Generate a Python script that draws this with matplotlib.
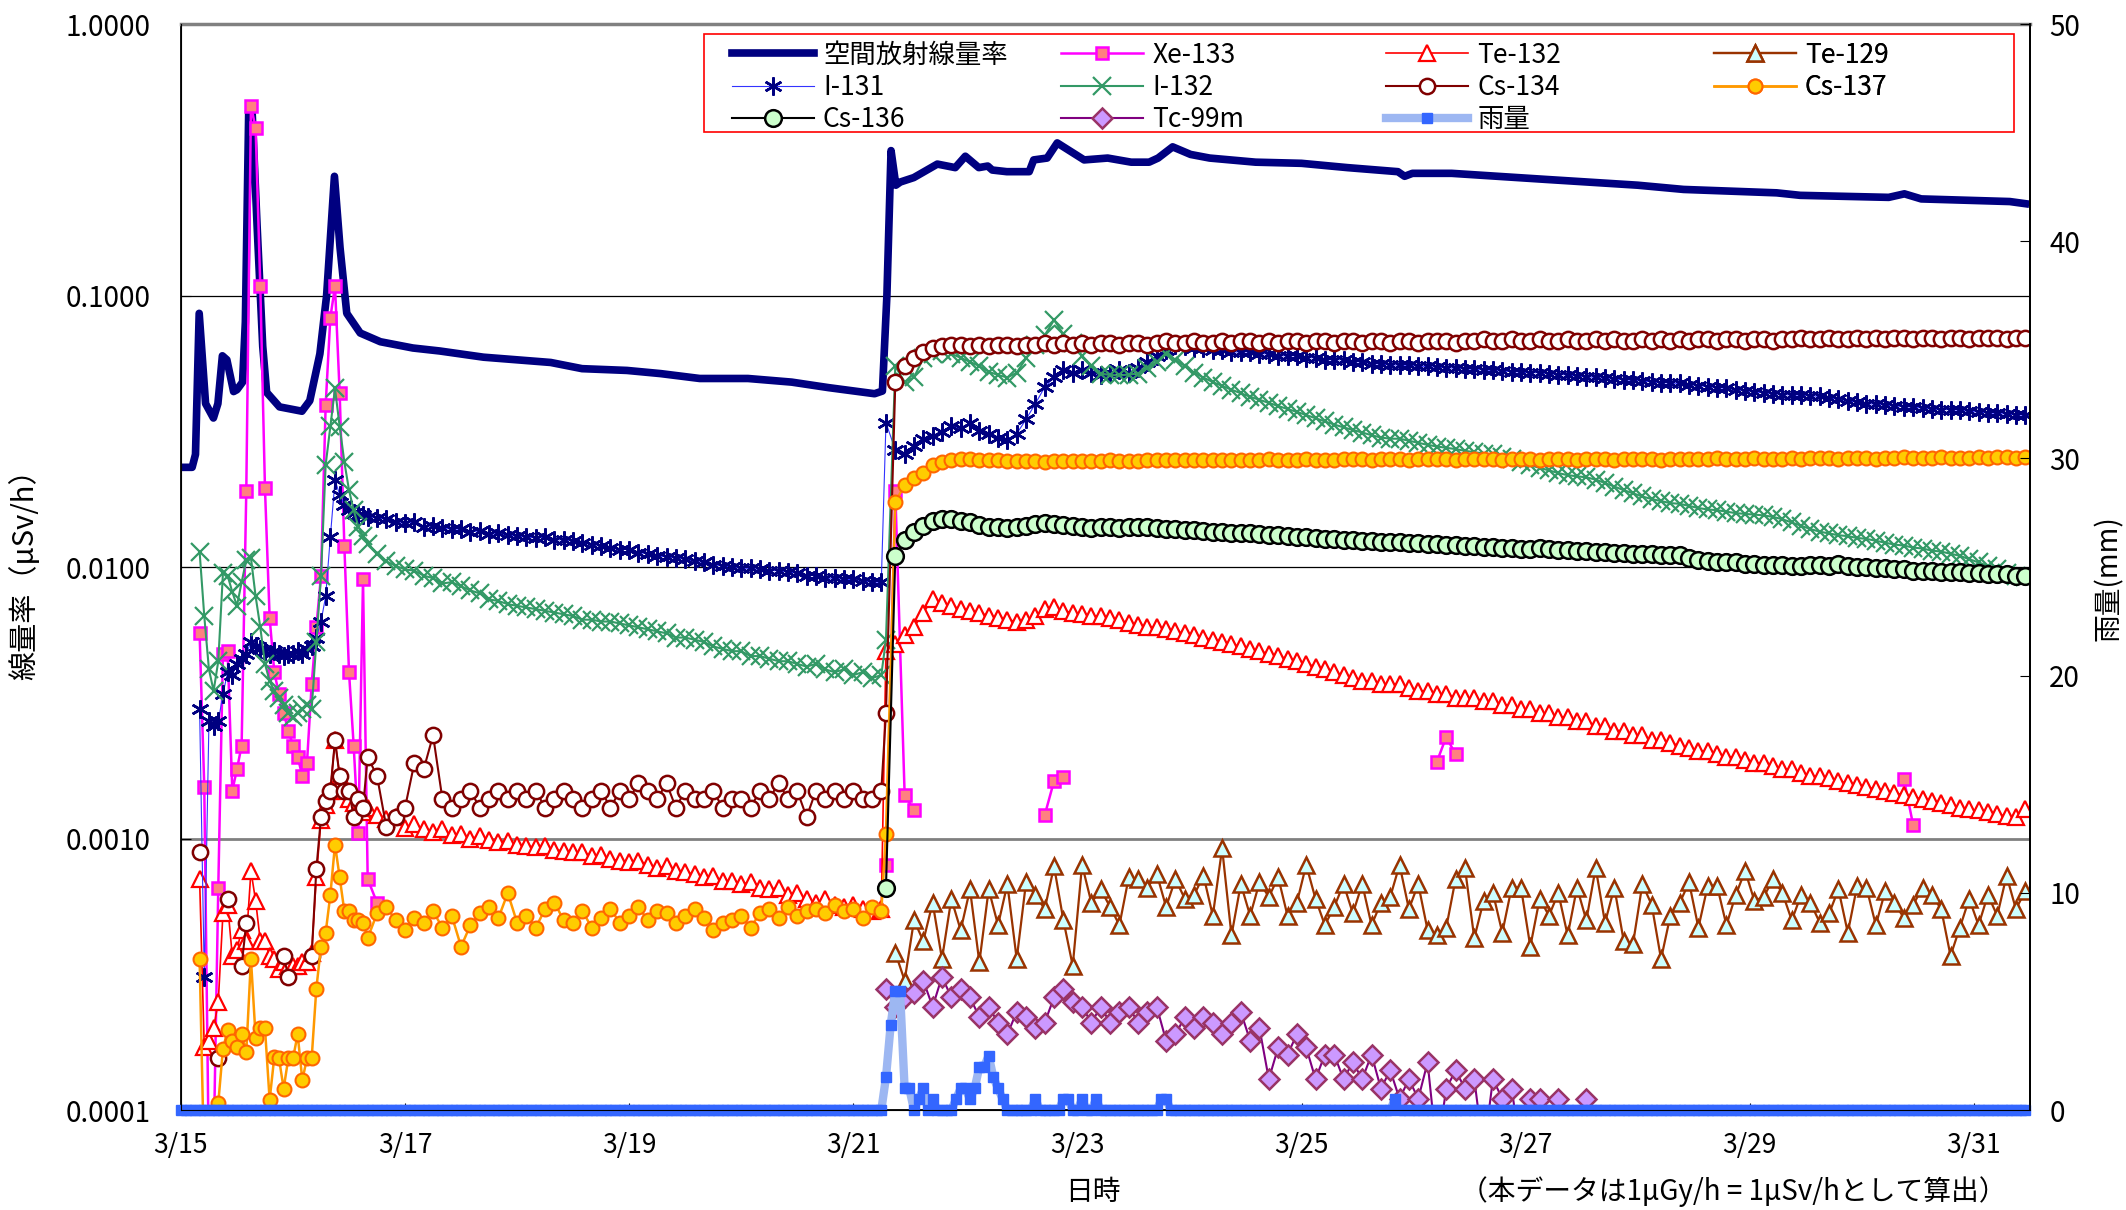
import matplotlib.pyplot as plt
from matplotlib.patches import Rectangle
import numpy as np

plt.rcParams['font.family'] = ['Noto Sans CJK JP', 'DejaVu Sans']
plt.rcParams['font.size'] = 19

nan = np.nan

# 時刻: 3/15 0:00 からの経過時間 (h)
hours_a = list(range(4, 41))        # 3/15 4:00 - 3/16 16:00 (1時間ごと)
hours_b = list(range(42, 151, 2))   # 3/16 18:00 - 3/21 6:00 (2時間ごと)
hours_c = list(range(151, 396, 2))  # 3/21 7:00 - 3/31 11:00 (2時間ごと)
hours_rain = list(range(0, 396))

date_ticks = [0, 2, 4, 6, 8, 10, 12, 14, 16]
date_labels = ['3/15', '3/17', '3/19', '3/21', '3/23', '3/25', '3/27', '3/29', '3/31']
dose_ticks = [0.0001, 0.001, 0.01, 0.1, 1.0]
dose_tick_labels = ['0.0001', '0.0010', '0.0100', '0.1000', '1.0000']
rain_ticks = [0, 10, 20, 30, 40, 50]

# 空間放射線量率 (μSv/h), 経過日数ごとの読み取り値
dose_day = [0.0, 0.10, 0.13, 0.163, 0.22, 0.29, 0.33, 0.37, 0.41, 0.47,
            0.50, 0.55, 0.575, 0.605, 0.635, 0.68, 0.73, 0.765, 0.88, 1.08,
            1.15, 1.24, 1.30, 1.37, 1.42, 1.48, 1.60, 1.78, 2.07, 2.31,
            2.70, 3.30, 3.58, 3.98, 4.28, 4.63, 5.06, 5.45, 5.78, 6.19,
            6.26, 6.30, 6.337, 6.38, 6.42, 6.54, 6.75, 6.91, 7.0, 7.12,
            7.20, 7.24, 7.37, 7.57, 7.61, 7.73, 7.82, 8.06, 8.27, 8.48,
            8.64, 8.72, 8.85, 9.01, 9.18, 9.59, 10.0, 10.41, 10.86, 10.92,
            10.99, 11.34, 12.17, 13.0, 13.41, 14.24, 14.45, 15.24, 15.38, 15.53,
            16.32, 16.46]
dose_val = [0.0233, 0.0233, 0.026, 0.086, 0.040, 0.0354, 0.040, 0.060, 0.058, 0.0443,
            0.045, 0.048, 0.08, 0.48, 0.48, 0.18, 0.065, 0.044, 0.0389, 0.0375,
            0.041, 0.061, 0.10, 0.275, 0.15, 0.086, 0.0728, 0.0676, 0.0641, 0.0625,
            0.0593, 0.0567, 0.0538, 0.053, 0.0516, 0.0495, 0.0495, 0.048, 0.0458, 0.0435,
            0.0445, 0.10, 0.342, 0.255, 0.262, 0.272, 0.305, 0.296, 0.326, 0.296,
            0.300, 0.290, 0.286, 0.286, 0.316, 0.321, 0.365, 0.316, 0.321, 0.310,
            0.310, 0.321, 0.353, 0.331, 0.321, 0.310, 0.307, 0.296, 0.286, 0.275,
            0.282, 0.282, 0.268, 0.255, 0.246, 0.239, 0.234, 0.230, 0.237, 0.227,
            0.222, 0.218]

# Xe-133
xe_a = [0.0057, 0.00155, 0.00006, 0.00007, 0.00066, 0.0048, 0.0049, 0.0015, 0.0018, 0.0022,
        0.0191, 0.50, 0.414, 0.108, 0.0195, 0.0065, 0.0041, 0.0034, 0.0029, 0.0025,
        0.0022, 0.002, 0.0017, 0.0019, 0.0037, 0.006, 0.0093, 0.0395, 0.083, 0.108,
        0.0437, 0.012, 0.0041, 0.0022, 0.00105, 0.009, 0.00071]
xe_b = [0.00058] + [nan] * 54
xe_late_hours = [151, 153, 155, 157, 185, 187, 189, 269, 271, 273, 369, 371]
xe_late_vals = [0.0008, 0.019, 0.00145, 0.00127, 0.00122, 0.00163, 0.00169,
                0.00192, 0.00237, 0.00204, 0.00166, 0.00112]

# Te-132
te132_a = [0.00071, 0.00017, 0.00018, 0.0002, 0.00025, 0.00053, 0.00057, 0.00037, 0.00039, 0.00046,
           0.00042, 0.00076, 0.00059, 0.00042, 0.00042, 0.00037, 0.00036, 0.00033, 0.00035, 0.00034,
           0.00034, 0.00034, 0.00035, 0.00035, 0.00038, 0.00072, 0.00117, 0.00133, 0.0015, 0.0023,
           0.0017, 0.0015, 0.0014, 0.00135, 0.0013, 0.00125, 0.0013]
te132_b = [0.00122, 0.00118, 0.0012, 0.00109, 0.00113, 0.00108, 0.00106, 0.00108, 0.00103, 0.00104,
           0.001, 0.00102, 0.00099, 0.00097, 0.00098, 0.00095, 0.00094, 0.00093, 0.00094, 0.00091,
           0.0009, 0.00089, 0.00089, 0.00086, 0.00087, 0.00084, 0.00083, 0.00082, 0.00083, 0.0008,
           0.00078, 0.00079, 0.00076, 0.00075, 0.00074, 0.00072, 0.00073, 0.0007, 0.0007, 0.00068,
           0.00069, 0.00066, 0.00065, 0.00066, 0.00062, 0.00063, 0.0006, 0.00058, 0.0006, 0.00057,
           0.00056, 0.00057, 0.00055, 0.00054, 0.00055]
te132_c = [0.0049, 0.0052, 0.0056, 0.006, 0.0068, 0.0076, 0.0074, 0.0072, 0.007, 0.0069,
           0.0068, 0.0066, 0.0065, 0.0064, 0.0063, 0.0064, 0.0066, 0.007, 0.0071, 0.0069,
           0.0068, 0.0067, 0.0066, 0.0066, 0.0065, 0.0064, 0.0062, 0.0061, 0.006, 0.006,
           0.0059, 0.0058, 0.0057, 0.0056, 0.0055, 0.0054, 0.0053, 0.0052, 0.0051, 0.005,
           0.0049, 0.0048, 0.0047, 0.0046, 0.0045, 0.0044, 0.0043, 0.0042, 0.0041, 0.004,
           0.0039, 0.0038, 0.0038, 0.0037, 0.0037, 0.0037, 0.0036, 0.0035, 0.0035, 0.0034,
           0.0034, 0.0033, 0.0033, 0.0033, 0.0032, 0.0032, 0.0031, 0.0031, 0.003, 0.003,
           0.0029, 0.0029, 0.0028, 0.0028, 0.0027, 0.0027, 0.0026, 0.0026, 0.0025, 0.0025,
           0.0024, 0.0024, 0.0023, 0.0023, 0.00225, 0.0022, 0.00215, 0.0021, 0.0021, 0.00205,
           0.002, 0.002, 0.00195, 0.0019, 0.0019, 0.00185, 0.0018, 0.0018, 0.00175, 0.0017,
           0.0017, 0.00167, 0.00163, 0.0016, 0.00158, 0.00155, 0.00152, 0.0015, 0.00147, 0.00145,
           0.00142, 0.0014, 0.00137, 0.00135, 0.00133, 0.0013, 0.00128, 0.00127, 0.00125, 0.00123,
           0.00121, 0.0012, 0.00128]

# Te-129 (3/21以降)
te129_c = [nan, 0.00038, 0.0003, 0.0005, 0.00042, 0.00058, 0.00036, 0.0006, 0.00046, 0.00065,
           0.00035, 0.00065, 0.00048, 0.00068, 0.00036, 0.00069, 0.00062, 0.00055, 0.00079, 0.0005,
           0.00034, 0.0008, 0.00058, 0.00065, 0.00056, 0.00048, 0.00072, 0.00071, 0.00066, 0.00074,
           0.00056, 0.00071, 0.0006, 0.00062, 0.00073, 0.00052, 0.00092, 0.00044, 0.00068, 0.00052,
           0.00069, 0.00061, 0.00072, 0.00052, 0.00058, 0.0008, 0.0006, 0.00048, 0.00056, 0.00068,
           0.00053, 0.00068, 0.00048, 0.00058, 0.00061, 0.0008, 0.00055, 0.00068, 0.00046, 0.00044,
           0.00047, 0.00071, 0.00078, 0.00043, 0.00059, 0.00063, 0.00045, 0.00066, 0.00066, 0.0004,
           0.0006, 0.00052, 0.00063, 0.00044, 0.00066, 0.0005, 0.00078, 0.00049, 0.00066, 0.00042,
           0.00041, 0.00068, 0.00057, 0.00036, 0.00052, 0.00058, 0.00069, 0.00047, 0.00067, 0.00067,
           0.00048, 0.00062, 0.00076, 0.00059, 0.00061, 0.00071, 0.00063, 0.0005, 0.00062, 0.00058,
           0.00049, 0.00053, 0.00065, 0.00045, 0.00067, 0.00066, 0.00048, 0.00064, 0.00058, 0.00051,
           0.00057, 0.00066, 0.00062, 0.00055, 0.00037, 0.00047, 0.0006, 0.00048, 0.00062, 0.00052,
           0.00073, 0.00055, 0.00064]

# I-131
i131_a = [0.003, 0.00031, 0.0027, 0.0026, 0.0027, 0.0034, 0.0041, 0.004, 0.0044, 0.0046,
          0.0048, 0.0053, 0.0051, 0.005, 0.0049, 0.0048, 0.0049, 0.0048, 0.0047, 0.0048,
          0.0048, 0.0049, 0.0048, 0.005, 0.0051, 0.0055, 0.0063, 0.0078, 0.0129, 0.0209,
          0.0185, 0.017, 0.0162, 0.0158, 0.0155, 0.0156, 0.0153]
i131_b = [0.0152, 0.015, 0.0146, 0.0145, 0.0147, 0.0141, 0.0142, 0.0139, 0.0138, 0.0138,
          0.0135, 0.0136, 0.0132, 0.0133, 0.0131, 0.013, 0.0129, 0.0128, 0.0129, 0.0126,
          0.0126, 0.0125, 0.0123, 0.0121, 0.012, 0.0118, 0.0116, 0.0116, 0.0113, 0.0112,
          0.011, 0.0109, 0.0108, 0.0107, 0.0105, 0.0104, 0.0102, 0.0101, 0.01, 0.0099,
          0.0099, 0.0098, 0.0097, 0.0097, 0.0096, 0.0095, 0.0093, 0.0093, 0.0091, 0.0091,
          0.009, 0.009, 0.0089, 0.0088, 0.0088]
i131_c = [0.034, 0.027, 0.026, 0.028, 0.0297, 0.0305, 0.0315, 0.033, 0.0325, 0.034,
          0.0318, 0.031, 0.03, 0.0295, 0.031, 0.035, 0.04, 0.046, 0.05, 0.053,
          0.052, 0.053, 0.052, 0.051, 0.052, 0.053, 0.052, 0.054, 0.057, 0.06,
          0.063, 0.066, 0.065, 0.064, 0.064, 0.063, 0.063, 0.062, 0.062, 0.062,
          0.061, 0.061, 0.06, 0.06, 0.06, 0.059, 0.059, 0.058, 0.058, 0.058,
          0.057, 0.057, 0.056, 0.056, 0.0555, 0.0555, 0.0553, 0.055, 0.0548, 0.0545,
          0.0542, 0.054, 0.0537, 0.0535, 0.0532, 0.053, 0.0527, 0.0525, 0.0522, 0.052,
          0.052, 0.0515, 0.0512, 0.051, 0.0505, 0.0502, 0.05, 0.0495, 0.0492, 0.049,
          0.0487, 0.0485, 0.048, 0.0478, 0.0476, 0.0475, 0.047, 0.0466, 0.0462, 0.0458,
          0.0455, 0.045, 0.0446, 0.0442, 0.0438, 0.0435, 0.0432, 0.043, 0.043, 0.0428,
          0.0425, 0.042, 0.0415, 0.041, 0.0405, 0.04, 0.0398, 0.0395, 0.0392, 0.039,
          0.0388, 0.0385, 0.0382, 0.038, 0.038, 0.0378, 0.0375, 0.0372, 0.037, 0.0368,
          0.0366, 0.0364, 0.0362]

# I-132
i132_a = [0.0114, 0.0066, 0.0042, 0.0035, 0.0045, 0.0095, 0.0093, 0.0081, 0.0072, 0.0088,
          0.0106, 0.0108, 0.0078, 0.006, 0.0044, 0.0038, 0.0035, 0.0033, 0.0031, 0.0029,
          0.0028, 0.0029, 0.003, 0.0031, 0.003, 0.0053, 0.0093, 0.0238, 0.033, 0.0455,
          0.0329, 0.0244, 0.0192, 0.0162, 0.0141, 0.013, 0.0122]
i132_b = [0.0112, 0.0105, 0.0101, 0.0098, 0.0097, 0.0093, 0.0091, 0.0087, 0.0088, 0.0085,
          0.0082, 0.008, 0.0076, 0.0075, 0.0073, 0.0072, 0.0071, 0.007, 0.0069, 0.0068,
          0.0067, 0.0066, 0.0064, 0.0064, 0.0063, 0.0063, 0.0062, 0.0061, 0.006, 0.0059,
          0.0058, 0.0057, 0.0055, 0.0055, 0.0054, 0.0053, 0.0051, 0.005, 0.0049, 0.0049,
          0.0047, 0.0047, 0.0046, 0.0045, 0.0045, 0.0044, 0.0043, 0.0044, 0.0042, 0.0041,
          0.0042, 0.004, 0.0041, 0.0039, 0.004]
i132_c = [0.0054, 0.055, 0.048, 0.05, 0.0587, 0.061, 0.0627, 0.061, 0.059, 0.057,
          0.055, 0.0524, 0.051, 0.0499, 0.052, 0.0587, 0.066, 0.0714, 0.0813, 0.072,
          0.0669, 0.06, 0.055, 0.0516, 0.051, 0.0508, 0.0512, 0.0516, 0.054, 0.057,
          0.061, 0.058, 0.055, 0.052, 0.0499, 0.048, 0.0465, 0.045, 0.0437, 0.0424,
          0.0413, 0.0402, 0.0392, 0.0382, 0.0373, 0.0363, 0.0353, 0.0344, 0.0335, 0.0327,
          0.032, 0.0313, 0.0306, 0.03, 0.0297, 0.0297, 0.0292, 0.0287, 0.0282, 0.0278,
          0.0275, 0.0272, 0.0268, 0.0265, 0.0262, 0.026, 0.0255, 0.025, 0.0243, 0.0237,
          0.0232, 0.0227, 0.0222, 0.0218, 0.0216, 0.0214, 0.021, 0.0204, 0.0198, 0.0192,
          0.0187, 0.0182, 0.0178, 0.0175, 0.0172, 0.0171, 0.0168, 0.0165, 0.0163, 0.0162,
          0.016, 0.0158, 0.0157, 0.0156, 0.0155, 0.0153, 0.015, 0.0146, 0.0142, 0.0138,
          0.0135, 0.0133, 0.0131, 0.013, 0.0128, 0.0127, 0.0125, 0.0123, 0.0121, 0.012,
          0.0118, 0.0117, 0.0115, 0.0114, 0.0112, 0.011, 0.0107, 0.0104, 0.0101, 0.0098,
          0.0095, 0.0093, 0.0092]

# Cs-134
cs134_a = [0.00089, nan, nan, nan, 0.000155, nan, 0.0006, nan, nan, 0.00034,
           0.00049, nan, nan, nan, nan, nan, nan, nan, 0.00037, 0.00031,
           nan, nan, nan, nan, 0.00037, 0.00077, 0.0012, 0.00137, 0.0015, 0.0023,
           0.0017, 0.0015, 0.0015, 0.0012, 0.0014, 0.0013, 0.002]
cs134_b = [0.0017, 0.0011, 0.0012, 0.0013, 0.0019, 0.0018, 0.0024, 0.0014, 0.0013, 0.0014,
           0.0015, 0.0013, 0.0014, 0.0015, 0.0014, 0.0015, 0.0014, 0.0015, 0.0013, 0.0014,
           0.0015, 0.0014, 0.0013, 0.0014, 0.0015, 0.0013, 0.0015, 0.0014, 0.0016, 0.0015,
           0.0014, 0.0016, 0.0013, 0.0015, 0.0014, 0.0014, 0.0015, 0.0013, 0.0014, 0.0014,
           0.0013, 0.0015, 0.0014, 0.0016, 0.0014, 0.0015, 0.0012, 0.0015, 0.0014, 0.0015,
           0.0014, 0.0015, 0.0014, 0.0014, 0.0015]
cs134_c = [0.0029, 0.048, 0.055, 0.059, 0.062, 0.064, 0.065, 0.066, 0.066, 0.065,
           0.066, 0.065, 0.066, 0.066, 0.065, 0.066, 0.066, 0.067, 0.066, 0.067,
           0.066, 0.067, 0.066, 0.067, 0.067, 0.066, 0.067, 0.067, 0.066, 0.067,
           0.068, 0.067, 0.067, 0.068, 0.067, 0.067, 0.068, 0.067, 0.068, 0.068,
           0.067, 0.068, 0.067, 0.068, 0.068, 0.067, 0.068, 0.068, 0.067, 0.068,
           0.068, 0.067, 0.068, 0.068, 0.067, 0.068, 0.068, 0.067, 0.068, 0.068,
           0.068, 0.067, 0.068, 0.068, 0.069, 0.068, 0.068, 0.069, 0.068, 0.068,
           0.069, 0.068, 0.068, 0.069, 0.068, 0.068, 0.069, 0.068, 0.069, 0.068,
           0.068, 0.069, 0.068, 0.069, 0.068, 0.069, 0.068, 0.069, 0.069, 0.068,
           0.069, 0.069, 0.068, 0.069, 0.069, 0.068, 0.069, 0.069, 0.07, 0.069,
           0.069, 0.07, 0.069, 0.069, 0.07, 0.069, 0.07, 0.069, 0.07, 0.07,
           0.069, 0.07, 0.07, 0.069, 0.07, 0.07, 0.069, 0.07, 0.07, 0.07,
           0.069, 0.07, 0.07]

# Cs-137
cs137_a = [0.00036, 0.00006, 0.00006, 0.00006, 0.000106, 0.000168, 0.000197, 0.00018, 0.00017, 0.00019,
           0.000164, 0.00036, 0.000185, 0.0002, 0.0002, 0.000109, 0.000157, 0.000155, 0.00012, 0.000155,
           0.000155, 0.00019, 0.000129, 0.000155, 0.000155, 0.00028, 0.0004, 0.00045, 0.00062, 0.00095,
           0.00072, 0.00054, 0.00054, 0.0005, 0.0005, 0.00049, 0.00043]
cs137_b = [0.00053, 0.00056, 0.0005, 0.00046, 0.00051, 0.00049, 0.00054, 0.00047, 0.00052, 0.0004,
           0.00048, 0.00053, 0.00056, 0.00051, 0.00063, 0.00049, 0.00052, 0.00047, 0.00055, 0.00058,
           0.0005, 0.00049, 0.00054, 0.00047, 0.00051, 0.00055, 0.00049, 0.00052, 0.00056, 0.0005,
           0.00054, 0.00053, 0.00049, 0.00052, 0.00055, 0.00051, 0.00046, 0.00049, 0.0005, 0.00052,
           0.00047, 0.00053, 0.00055, 0.00051, 0.00056, 0.00052, 0.00054, 0.00055, 0.00053, 0.00057,
           0.00054, 0.00055, 0.00051, 0.00056, 0.00054]
cs137_c = [0.00104, 0.0174, 0.02, 0.0213, 0.0223, 0.0237, 0.0243, 0.0248, 0.025, 0.025,
           0.0249, 0.0248, 0.0247, 0.0246, 0.0245, 0.0246, 0.0245, 0.0244, 0.0245, 0.0246,
           0.0245, 0.0246, 0.0245, 0.0246, 0.0247, 0.0246, 0.0245, 0.0246, 0.0247, 0.0248,
           0.0249, 0.0248, 0.0247, 0.0248, 0.0249, 0.0248, 0.0247, 0.0248, 0.0249, 0.0248,
           0.0249, 0.025, 0.0249, 0.0248, 0.0249, 0.025, 0.0249, 0.0248, 0.0249, 0.025,
           0.0251, 0.025, 0.0249, 0.025, 0.0251, 0.025, 0.0249, 0.025, 0.0251, 0.025,
           0.025, 0.0249, 0.025, 0.0251, 0.025, 0.025, 0.0249, 0.025, 0.0251, 0.025,
           0.0249, 0.025, 0.0251, 0.025, 0.0249, 0.025, 0.0251, 0.025, 0.0249, 0.025,
           0.0251, 0.025, 0.025, 0.0249, 0.025, 0.0251, 0.025, 0.025, 0.0251, 0.0252,
           0.0251, 0.025, 0.0251, 0.0252, 0.0251, 0.025, 0.0251, 0.0252, 0.0251, 0.0252,
           0.0253, 0.0252, 0.0251, 0.0252, 0.0253, 0.0252, 0.0251, 0.0252, 0.0253, 0.0254,
           0.0253, 0.0252, 0.0253, 0.0254, 0.0253, 0.0252, 0.0253, 0.0254, 0.0253, 0.0254,
           0.0254, 0.0253, 0.0254]

# Cs-136 (3/21以降)
cs136_c = [0.00066, 0.011, 0.0126, 0.0135, 0.0142, 0.0148, 0.015, 0.015, 0.0148, 0.0146,
           0.0143, 0.0141, 0.014, 0.0139, 0.014, 0.0142, 0.0144, 0.0145, 0.0144, 0.0143,
           0.0142, 0.014, 0.0139, 0.014, 0.014, 0.0139, 0.014, 0.0141, 0.014, 0.0139,
           0.0138, 0.0138, 0.0137, 0.0137, 0.0136, 0.0135, 0.0135, 0.0134, 0.0133, 0.0133,
           0.0132, 0.0131, 0.0131, 0.013, 0.0129, 0.0129, 0.0128, 0.0127, 0.0127, 0.0126,
           0.0126, 0.0125, 0.0125, 0.0124, 0.0124, 0.0124, 0.0123, 0.0123, 0.0122, 0.0122,
           0.0121, 0.0121, 0.012, 0.012, 0.0119, 0.0119, 0.0118, 0.0118, 0.0117, 0.0117,
           0.0118, 0.0117, 0.0116, 0.0116, 0.0115, 0.0115, 0.0114, 0.0114, 0.0113, 0.0113,
           0.0112, 0.0112, 0.0112, 0.0111, 0.0111, 0.0111, 0.0108, 0.0106, 0.0105, 0.0104,
           0.0104, 0.0104, 0.0103, 0.0103, 0.0102, 0.0102, 0.0102, 0.0101, 0.0101, 0.0102,
           0.0102, 0.0101, 0.0103, 0.0101, 0.01, 0.01, 0.0099, 0.0099, 0.0098, 0.0098,
           0.0097, 0.0097, 0.0097, 0.0096, 0.0096, 0.0096, 0.0095, 0.0095, 0.0094, 0.0094,
           0.0094, 0.0093, 0.0093]

# Tc-99m (3/21 7:00 - 3/27 13:00)
tc99m_c = [0.00028, 0.00024, 0.00026, 0.00027, 0.0003, 0.00024, 0.00031, 0.00026, 0.00028, 0.00026,
           0.00022, 0.00024, 0.00021, 0.00019, 0.00023, 0.00022, 0.0002, 0.00021, 0.00026, 0.00028,
           0.00025, 0.00024, 0.00021, 0.00024, 0.00021, 0.00023, 0.00024, 0.00021, 0.00023, 0.00024,
           0.00018, 0.00019, 0.00022, 0.0002, 0.00022, 0.00021, 0.00019, 0.00021, 0.00023, 0.00018,
           0.0002, 0.00013, 0.00017, 0.00016, 0.00019, 0.00017, 0.00013, 0.00016, 0.00016, 0.00013,
           0.00015, 0.00013, 0.00016, 0.00012, 0.00014, 0.00011, 0.00013, 0.00011, 0.00015, 0.00007,
           0.00012, 0.00014, 0.00012, 0.00013, 0.00007, 0.00013, 0.00011, 0.00012, 0.00007, 0.00011,
           0.00011, nan, 0.00011, nan, nan, 0.00011]

# 雨量 (mm), 1時間ごと
rain_mm = ([0] * 151
           + [1.5, 3.9, 5.5, 5.5, 1.0, 1.0, 0, 0.5, 1.0, 0,
              0.5, 0, 0, 0, 0, 0.5, 1.0, 1.0, 0.5, 1.0,
              2.0, 2.0, 2.5, 1.5, 1.0, 0.5, 0, 0, 0, 0,
              0, 0, 0.5, 0, 0, 0, 0, 0, 0.5, 0.5,
              0, 0, 0.5, 0, 0, 0.5]
           + [0] * 13 + [0.5, 0.5] + [0] * 48 + [0.5] + [0] * 135)


def join(a, b, c):
    return np.concatenate([np.array(a, float), np.array(b, float), np.array(c, float)])


t_all = np.array(hours_a + hours_b + hours_c) / 24
t_c = np.array(hours_c) / 24
t_rain = np.array(hours_rain) / 24

xe_c = np.full(len(hours_c), nan)
for h, v in zip(xe_late_hours, xe_late_vals):
    xe_c[hours_c.index(h)] = v

fig = plt.figure(figsize=(21.26, 12.10), dpi=100)
ax = fig.add_axes([0.0851, 0.0826, 0.8697, 0.8975])

h_dose, = ax.plot(dose_day, dose_val, color='#000080', lw=5.5, solid_joinstyle='round',
                  label='空間放射線量率')
h_xe, = ax.plot(t_all, join(xe_a, xe_b, xe_c), color='#FF00FF', lw=1.8, marker='s', ms=8,
                mfc='#FF8080', mec='#FF00FF', mew=1.8, label='Xe-133')
h_te132, = ax.plot(t_all, join(te132_a, te132_b, te132_c), color='#FF0000', lw=1.2, marker='^',
                   ms=11, mfc='white', mec='#FF0000', mew=1.6, label='Te-132')
h_te129, = ax.plot(t_c, te129_c, color='#993300', lw=1.6, marker='^', ms=12,
                   mfc='#CCFFFF', mec='#993300', mew=1.8, label='Te-129')
h_i131, = ax.plot(t_all, join(i131_a, i131_b, i131_c), color='#3333FF', lw=0.8, marker=(6, 2, 0),
                  ms=13, mec='#000080', mew=1.8, label='I-131')
h_i132, = ax.plot(t_all, join(i132_a, i132_b, i132_c), color='#339966', lw=1.5, marker='x',
                  ms=13, mec='#339966', mew=1.6, label='I-132')
h_cs134, = ax.plot(t_all, join(cs134_a, cs134_b, cs134_c), color='#800000', lw=1.5, marker='o',
                   ms=11, mfc='white', mec='#800000', mew=1.8, label='Cs-134')
h_cs137, = ax.plot(t_all, join(cs137_a, cs137_b, cs137_c), color='#FF9900', lw=1.8, marker='o',
                   ms=10, mfc='#FFCC00', mec='#FF6600', mew=1.5, label='Cs-137')
h_cs136, = ax.plot(t_c, cs136_c, color='black', lw=1.5, marker='o', ms=12,
                   mfc='#CCFFCC', mec='black', mew=1.8, label='Cs-136')
h_tc, = ax.plot(t_c[:len(tc99m_c)], tc99m_c, color='#800080', lw=1.5, marker='D', ms=10,
                mfc='#CC99FF', mec='#993366', mew=1.8, label='Tc-99m')

ax.set_yscale('log')
ax.set_ylim(0.0001, 1.0)
ax.set_xlim(0, 16.5)
ax.set_yticks(dose_ticks)
ax.set_yticklabels(dose_tick_labels)
ax.yaxis.set_minor_locator(plt.NullLocator())
ax.set_xticks(date_ticks)
ax.set_xticklabels(date_labels)
ax.tick_params(axis='y', direction='in', length=7, pad=22, labelsize=20)
ax.tick_params(axis='x', direction='in', length=5, pad=16, labelsize=19)
ax.grid(axis='y', which='major', color='black', lw=0.9)
for line, v in zip(ax.get_ygridlines(), dose_ticks):
    if v == 0.001:
        line.set_color('#808080')
        line.set_linewidth(2)
ax.spines['top'].set_color('#808080')
ax.spines['top'].set_linewidth(2.5)
for s in ['left', 'bottom', 'right']:
    ax.spines[s].set_linewidth(1.3)

ax.set_ylabel('線量率（μSv/h）', fontsize=21)
ax.yaxis.set_label_coords(-0.076, 0.5)
ax.set_xlabel('日時', fontsize=20)
ax.xaxis.set_label_coords(0.493, -0.062)
ax.text(0.9876, -0.075, '（本データは1μGy/h = 1μSv/hとして算出）', transform=ax.transAxes,
        ha='right', va='center', fontsize=20)

# 雨量は右軸
ax2 = ax.twinx()
h_rain, = ax2.plot(t_rain, rain_mm, color='#9DB7F2', lw=6, marker='s', ms=7.5,
                   mfc='#3366FF', mec='#3366FF', clip_on=False, label='雨量')
ax2.set_ylim(0, 50)
ax2.set_yticks(rain_ticks)
ax2.tick_params(axis='y', direction='in', length=7, pad=14, labelsize=20)
ax2.set_ylabel('雨量(mm)', fontsize=20)
ax2.yaxis.set_label_coords(1.0346, 0.49)
ax2.spines['top'].set_visible(False)
ax2.spines['right'].set_linewidth(1.3)

# 凡例: Excel と同じく等幅の4列
ax2.add_patch(Rectangle((0.2829, 0.9006), 0.7084, 0.0902, transform=ax2.transAxes,
                        facecolor='white', edgecolor='#FF0000', lw=1.2, zorder=4))
legend_cols = [[h_dose, h_i131, h_cs136], [h_xe, h_i132, h_tc],
               [h_te132, h_cs134, h_rain], [h_te129, h_cs137]]
legend_x = [0.298, 0.476, 0.652, 0.829]
for col, x0 in zip(legend_cols, legend_x):
    leg = ax2.legend(handles=col, loc='upper left', bbox_to_anchor=(x0, 0.9838),
                     frameon=False, fontsize=19, borderpad=0, borderaxespad=0,
                     labelspacing=0.2, handlelength=3.1, handletextpad=0.35)
    leg.set_zorder(5)
    ax2.add_artist(leg)

fig.savefig('out.png', dpi=100)
